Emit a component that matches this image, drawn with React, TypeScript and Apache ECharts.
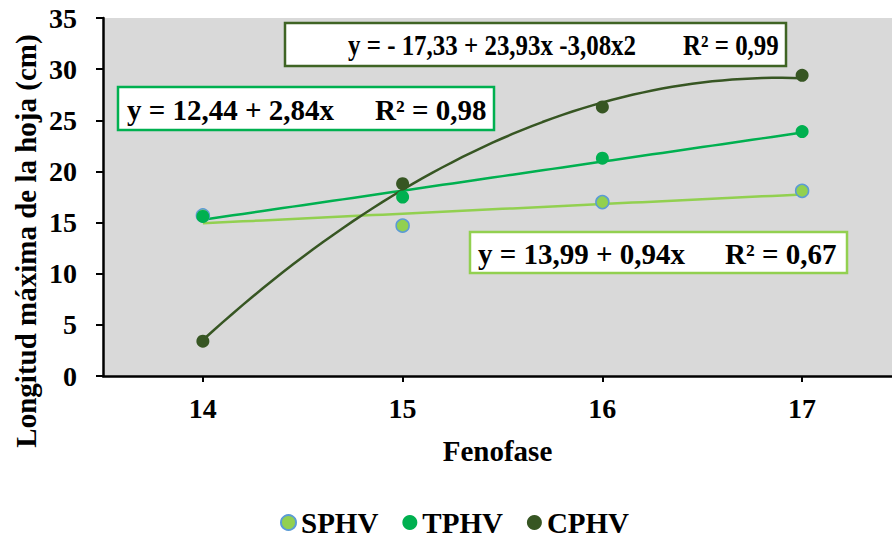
import React, { useEffect, useRef } from "react";
import * as echarts from "echarts";

const categories = [14, 15, 16, 17];
const sphv = [15.7, 14.7, 17.0, 18.1];
const tphv = [15.6, 17.5, 21.3, 23.9];
const cphv = [3.4, 18.8, 26.3, 29.4];

// trendline coefficients as printed on the chart (x = 1..4 for phases 14..17)
const sphvCoef = [13.99, 0.94, 0];
const tphvCoef = [12.44, 2.84, 0];
const cphvCoef = [-17.33, 23.93, -3.08];

const yTicks = [0, 5, 10, 15, 20, 25, 30, 35];

const FONT = "'Liberation Serif', 'Times New Roman', serif";

function trend(coef: number[]) {
  const pts: number[][] = [];
  const steps = 60;
  for (let i = 0; i <= steps; i++) {
    const t = 1 + (3 * i) / steps;
    const y = coef[0] + coef[1] * t + coef[2] * t * t;
    pts.push([categories[0] + (t - 1), y]);
  }
  return pts;
}

export default function App() {
  const ref = useRef<HTMLDivElement>(null);
  useEffect(() => {
    const chart = echarts.init(ref.current!, null, { renderer: "svg" });
    const box = (x: number, y: number, w: number, h: number, color: string, eq: string, eqX: number, sc: number, r2: string, r2X: number) => ({
      type: "group",
      z: 100,
      children: [
        { type: "rect", shape: { x, y, width: w, height: h }, style: { fill: "#fff", stroke: color, lineWidth: 2.5 } },
        { type: "text", x: eqX, y: y + h / 2 + 1, scaleX: sc, style: { text: eq, font: `bold 29px ${FONT}`, fill: "#000", verticalAlign: "middle" } },
        { type: "text", x: r2X, y: y + h / 2 + 1, scaleX: sc, style: { text: r2, font: `bold 29px ${FONT}`, fill: "#000", verticalAlign: "middle" } },
      ],
    });
    chart.setOption({
      animation: false,
      backgroundColor: "#fff",
      grid: { left: 103, top: 18, right: 0, bottom: 161, backgroundColor: "#d9d9d9", show: true, borderWidth: 0 },
      xAxis: {
        type: "value",
        min: 13.5,
        max: 17.45,
        name: "Fenofase",
        nameLocation: "middle",
        nameGap: 60,
        nameTextStyle: { fontFamily: FONT, fontWeight: "bold", fontSize: 29, color: "#000" },
        axisLine: { lineStyle: { color: "#000", width: 2.5 } },
        axisTick: { show: true, customValues: categories, length: 6, lineStyle: { color: "#000", width: 2 } },
        axisLabel: { customValues: categories, margin: 18, fontFamily: FONT, fontWeight: "bold", fontSize: 28, color: "#000" },
        splitLine: { show: false },
      },
      yAxis: {
        type: "value",
        min: 0,
        max: 35,
        interval: 5,
        axisLine: { show: true, lineStyle: { color: "#000", width: 2.5 } },
        axisTick: { show: true, length: 7, lineStyle: { color: "#000", width: 2 } },
        axisLabel: { margin: 26, fontFamily: FONT, fontWeight: "bold", fontSize: 28, color: "#000", formatter: (v: number) => (yTicks.includes(v) ? String(v) : "") },
        splitLine: { show: false },
      },
      legend: {
        data: ["SPHV", "TPHV", "CPHV"],
        top: 503,
        left: 275,
        icon: "circle",
        itemWidth: 15,
        itemHeight: 15,
        itemGap: 24,
        textStyle: { fontFamily: FONT, fontWeight: "bold", fontSize: 29, color: "#000" },
      },
      series: [
        { type: "line", data: trend(sphvCoef), showSymbol: false, symbol: "none", lineStyle: { color: "#92d050", width: 2.5 }, z: 2, silent: true },
        { type: "line", data: trend(tphvCoef), showSymbol: false, symbol: "none", lineStyle: { color: "#00b050", width: 2.5 }, z: 2, silent: true },
        { type: "line", data: trend(cphvCoef), showSymbol: false, symbol: "none", lineStyle: { color: "#375623", width: 2.5 }, z: 2, silent: true },
        { name: "SPHV", type: "scatter", symbolSize: 13, data: categories.map((c, i) => [c, sphv[i]]), itemStyle: { color: "#92d050", borderColor: "#5b9bd5", borderWidth: 1.5, opacity: 1 }, z: 5 },
        { name: "TPHV", type: "scatter", symbolSize: 13, data: categories.map((c, i) => [c, tphv[i]]), itemStyle: { color: "#00b050", opacity: 1 }, z: 5 },
        { name: "CPHV", type: "scatter", symbolSize: 13, data: categories.map((c, i) => [c, cphv[i]]), itemStyle: { color: "#375623", opacity: 1 }, z: 5 },
      ],
      graphic: [
        {
          type: "text",
          x: 26,
          y: 241,
          rotation: Math.PI / 2,
          style: { text: "Longitud máxima de la hoja (cm)", font: `bold 29px ${FONT}`, fill: "#000", align: "center", verticalAlign: "middle" },
        },
        box(285, 23, 501, 43, "#3f6424", "y = - 17,33 + 23,93x -3,08x2", 348, 0.86, "R² = 0,99", 683),
        box(118, 87, 376, 43, "#00b050", "y = 12,44 + 2,84x", 127, 1, "R² = 0,98", 375),
        box(470, 232, 377, 41, "#92d050", "y = 13,99 + 0,94x", 478, 1, "R² = 0,67", 725),
      ],
    });
    return () => chart.dispose();
  }, []);
  return <div ref={ref} style={{ position: "fixed", left: 0, top: 0, width: 892, height: 537 }} />;
}
